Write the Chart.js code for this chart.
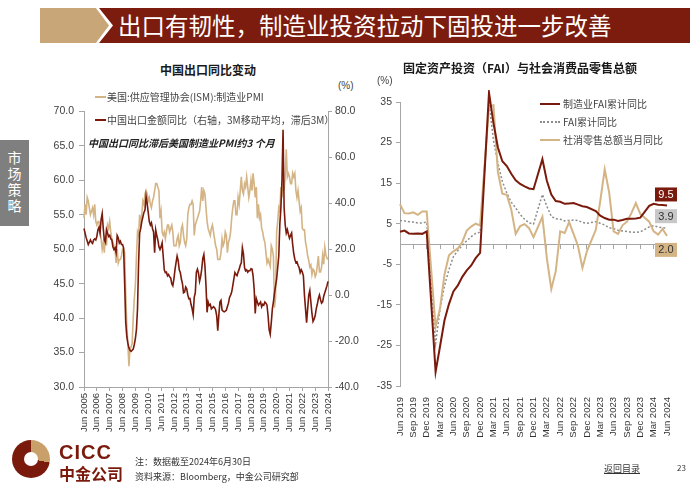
<!DOCTYPE html>
<html>
<head>
<meta charset="utf-8">
<script src="https://cdn.jsdelivr.net/npm/chart.js@4.4.1/dist/chart.umd.min.js"></script>
<style>
  body { margin: 0; width: 700px; height: 490px; position: relative; background: #fff; overflow: hidden;
         font-family: "Liberation Sans", "Noto Sans CJK SC", sans-serif; color: #333; }
  .abs { position: absolute; white-space: nowrap; }
  .tan-arrow { left: 40px; top: 8px; width: 69px; height: 35px; background: #c9a678;
               clip-path: polygon(0 0, 81% 0, 100% 50%, 81% 100%, 0 100%); }
  .head-bar { left: 99px; top: 8px; width: 591px; height: 35px; background: #7b1c0e;
              clip-path: polygon(0 0, 100% 0, 100% 100%, 0 100%, 14px 50%); }
  .head-text { left: 118px; top: 8px; line-height: 35px; font-size: 23.5px; color: #fff; font-family: "Noto Sans CJK SC", sans-serif; }
  .side { left: 0; top: 140px; width: 29px; height: 86px; background: #7f7f7f; color: #fff; font-size: 14px;
          writing-mode: vertical-rl; display: flex; align-items: center; justify-content: center; letter-spacing: 2px;
          font-family: "Noto Sans CJK SC", sans-serif; }
  .ctitle { font-size: 12px; font-weight: bold; color: #1a1a1a; font-family: "Noto Sans CJK SC", sans-serif; transform: translateX(-50%); }
  .unit { font-size: 10px; color: #444; }
  .leg { font-size: 10px; color: #444; font-family: "Noto Sans CJK SC", sans-serif; }
  .legline { height: 2px; }
  .note { font-size: 9px; color: #333; font-family: "Noto Sans CJK SC", sans-serif; }
  canvas { position: absolute; }
</style>
</head>
<body>
<div class="abs tan-arrow"></div>
<div class="abs head-bar"></div>
<div class="abs head-text">出口有韧性，制造业投资拉动下固投进一步改善</div>
<div class="abs side">市场策略</div>

<canvas id="leftChart" width="340" height="345" style="left:30px;top:100px"></canvas>
<canvas id="rightChart" width="330" height="355" style="left:360px;top:90px"></canvas>

<!-- left chart texts -->
<div class="abs ctitle" style="left:208px;top:61px">中国出口同比变动</div>
<div class="abs unit" style="left:338px;top:80px">(%)</div>
<div class="abs legline" style="left:95px;top:96px;width:11px;background:#d4b485"></div>
<div class="abs leg" style="left:107px;top:89px">美国:供应管理协会(ISM):制造业PMI</div>
<div class="abs legline" style="left:95px;top:119px;width:11px;background:#7a1a0c"></div>
<div class="abs leg" style="left:107px;top:112px">中国出口金额同比（右轴，3M移动平均，滞后3M）</div>
<div class="abs leg" style="left:88px;top:135px;font-weight:bold;font-style:italic;color:#222">中国出口同比滞后美国制造业PMI约3 个月</div>

<!-- right chart texts -->
<div class="abs ctitle" style="left:520px;top:59px">固定资产投资（FAI）与社会消费品零售总额</div>
<div class="abs unit" style="left:377px;top:75px">(%)</div>
<div class="abs legline" style="left:540px;top:103px;width:20px;background:#7a1a0c"></div>
<div class="abs leg" style="left:563px;top:96px">制造业FAI累计同比</div>
<div class="abs" style="left:540px;top:121px;width:20px;border-top:2px dotted #8c8c8c"></div>
<div class="abs leg" style="left:563px;top:114px">FAI累计同比</div>
<div class="abs legline" style="left:540px;top:139px;width:20px;background:#d4b485"></div>
<div class="abs leg" style="left:563px;top:132px">社消零售总额当月同比</div>

<!-- footer -->
<div class="abs" style="left:12px;top:440px;width:38px;height:38px;border-radius:50%;background:conic-gradient(#c9a06a 0 28%, #7a1a0c 28% 100%)"></div>
<div class="abs" style="left:24px;top:452px;width:14px;height:14px;border-radius:50%;background:#fff"></div>
<div class="abs" style="left:59px;top:441px;font-size:20px;font-weight:bold;color:#7a1a0c;letter-spacing:1px">CICC</div>
<div class="abs" style="left:59px;top:461px;font-size:16px;font-weight:bold;color:#7a1a0c;font-family:'Noto Sans CJK SC',sans-serif">中金公司</div>
<div class="abs note" style="left:135px;top:455px">注：数据截至2024年6月30日</div>
<div class="abs note" style="left:135px;top:470px">资料来源：Bloomberg，中金公司研究部</div>
<div class="abs note" style="left:604px;top:462px;text-decoration:underline">返回目录</div>
<div class="abs note" style="left:677px;top:462px;font-size:8px">23</div>

<script>
// ---- 左图：美国ISM制造业PMI vs 中国出口同比（月度，2005-06 至 2024-06）----
const leftTickLabels = ["Jun 2005", "Jun 2006", "Jun 2007", "Jun 2008", "Jun 2009", "Jun 2010", "Jun 2011",
    "Jun 2012", "Jun 2013", "Jun 2014", "Jun 2015", "Jun 2016", "Jun 2017", "Jun 2018", "Jun 2019",
    "Jun 2020", "Jun 2021", "Jun 2022", "Jun 2023", "Jun 2024"];

const ismPMI = [
    54.5, 56.5, 55.0, 57.5, 57.0, 56.0, 55.0,                                   // 2005 Jun-Dec
    55.5, 56.0, 55.0, 56.5, 54.0, 53.5, 54.0, 54.0, 52.5, 51.5, 50.0, 51.0,     // 2006
    49.5, 52.0, 50.5, 53.5, 53.0, 54.0, 52.5, 51.5, 51.0, 50.5, 50.0, 48.0,     // 2007
    50.0, 48.0, 48.5, 48.5, 49.0, 50.0, 50.0, 49.5, 43.5, 38.9, 36.2, 33.0,     // 2008
    35.6, 35.8, 36.3, 40.1, 42.8, 44.8, 48.9, 52.5, 52.0, 55.0, 53.5, 55.0,     // 2009
    57.0, 56.5, 58.0, 58.5, 58.0, 57.0, 57.5, 56.5, 56.0, 57.0, 57.5, 58.5,     // 2010
    59.5, 59.5, 59.0, 58.5, 54.5, 55.5, 52.5, 52.0, 52.5, 51.5, 52.5, 53.5,     // 2011
    53.5, 52.5, 53.0, 53.5, 52.5, 50.5, 50.5, 50.5, 51.5, 52.0, 50.5, 51.0,     // 2012
    53.0, 53.5, 52.0, 51.0, 50.5, 51.5, 55.0, 56.0, 56.5, 56.5, 57.0, 56.5,     // 2013
    52.0, 53.5, 54.0, 54.5, 55.0, 55.5, 57.0, 59.0, 57.0, 58.5, 58.0, 56.0,     // 2014
    54.0, 53.0, 52.5, 52.0, 53.0, 53.5, 52.5, 51.5, 50.5, 50.0, 48.5, 48.5,     // 2015
    48.5, 49.5, 51.5, 50.5, 51.0, 52.5, 52.0, 49.5, 51.0, 51.5, 52.5, 54.5,     // 2016
    56.0, 57.0, 57.0, 55.0, 55.0, 57.5, 56.5, 58.5, 60.5, 58.5, 58.0, 59.5,     // 2017
    59.0, 60.5, 59.0, 57.5, 58.5, 60.0, 58.5, 61.0, 59.5, 57.5, 59.0, 54.5,     // 2018
    56.5, 54.5, 55.0, 53.0, 52.5, 51.5, 51.0, 49.5, 48.0, 48.5, 48.0, 47.5,     // 2019
    50.5, 50.0, 49.0, 41.5, 43.0, 52.5, 54.0, 56.0, 55.5, 59.0, 57.5, 60.5,     // 2020
    58.5, 60.5, 64.5, 60.5, 61.0, 60.5, 59.5, 59.5, 61.0, 60.5, 61.0, 58.5,     // 2021
    57.5, 58.5, 57.0, 55.5, 56.0, 53.0, 52.8, 52.8, 51.0, 50.2, 49.0, 48.4,     // 2022
    47.4, 47.7, 46.3, 47.1, 46.9, 46.0, 46.4, 47.6, 49.0, 46.7, 46.7, 47.4,     // 2023
    49.1, 47.8, 50.3, 49.2, 48.7, 48.5                                          // 2024 Jan-Jun
];

// 中国出口金额同比（3M移动平均，滞后3M），右轴
const chinaExport = [
    29, 27, 25, 23.5, 22, 23, 24,                                   // 2005 Jun-Dec
    23, 22.5, 24, 24.5, 24, 25.5, 28.5, 29.5, 27, 33, 35.5, 29,     // 2006
    24, 23, 28.5, 27, 25.5, 26, 24.5, 24, 21, 19.8, 20.5, 18.5,     // 2007
    26, 25, 22.7, 23.5, 22, 22, 20.5, 5, -12, -18, -21, -23,        // 2008
    -24, -24.5, -24, -23.5, -21.5, -19, -15, -6, 14, 27, 29, 32,    // 2009
    34, 36, 37, 43, 40, 36, 32, 30.5, 31.5, 29, 27.5, 18.4,         // 2010
    28.4, 26, 24, 21, 19.8, 21, 22.7, 17, 11, 9.8, 10, 8.4,         // 2011
    9, 8, 7.5, 5, 4.1, 7, 11, 14.1, 17, 15, 11, 9.8,                // 2012
    7, 5, 1, 1.3, 3.5, 2.7, 0, -1.6, -1.5, -4, -5.9, -8.5,          // 2013
    -1, 1, 10, 11.3, 9.5, 6, 8, 11.3, 16, 17.7, 12.7, 4,            // 2014
    -7.5, -3, -4.5, -4, -6, -5.5, -5, -5.5, -6.5, -9, -15.5, -8.7,  // 2015
    -3, -2.3, -6.5, -7, -7.3, -7, -6.6, -5, -3.5, -1, 0, 1.3,       // 2016
    4, 7, 9.8, 9, 8.5, 10, 11.3, 13, 14.1, 20.6, 18, 12,            // 2017
    10.6, 11, 10, 10.6, 10.6, 11.5, 11.3, 8.4, 2.7, -8, -1.5, -3,   // 2018
    -4.4, -3.7, -3, -5.1, -4, -4.4, -3, -3.5, -4.4, -9, -15, -17,   // 2019
    -12, -6, -3, 1, 4, 7, 12, 17, 31, 38, 50, 72,                   // 2020
    38, 30.6, 27, 28.5, 26.5, 24.8, 26, 27, 22, 18, 15.6, 14.1,     // 2021
    14.5, 13, 12, 9.8, 11, 10, 8.4, 0, -6, -12, -6, 0,              // 2022
    2, -3, -8, -11.5, -10.5, -9, -6, -4, -1.5, 0, -2, -3.5,         // 2023
    -3, -0.5, 1, 2.5, 4, 6                                          // 2024 Jan-Jun
];

// ---- 右图：FAI 与社零（月度，2019-06 至 2024-06；1月无单独数据）----
const rightTickLabels = ["Jun 2019", "Sep 2019", "Dec 2019", "Mar 2020", "Jun 2020", "Sep 2020", "Dec 2020",
    "Mar 2021", "Jun 2021", "Sep 2021", "Dec 2021", "Mar 2022", "Jun 2022", "Sep 2022", "Dec 2022",
    "Mar 2023", "Jun 2023", "Sep 2023", "Dec 2023", "Mar 2024", "Jun 2024"];
const rightYTicks = [-35, -25, -15, -5, 5, 15, 25, 35];

const mfgFAI = [
    3.0, 3.3, 2.6, 2.5, 2.6, 2.5, 3.1,
    null, -31.5, -25.2, -18.8, -14.8, -11.7, -10.2, -8.1, -6.5, -5.3, -3.5, -2.2,
    null, 37.3, 29.8, 23.8, 20.4, 19.2, 17.3, 15.7, 14.8, 14.2, 13.7, 13.5,
    null, 20.9, 15.6, 12.2, 10.6, 10.4, 9.9, 10.0, 10.1, 9.7, 9.3, 9.1,
    null, 8.1, 7.0, 6.4, 6.0, 6.0, 5.7, 5.9, 6.2, 6.2, 6.3, 6.5,
    null, 9.4, 9.9, 9.7, 9.6, 9.5
];
const totalFAI = [
    5.8, 5.7, 5.5, 5.4, 5.2, 5.2, 5.4,
    null, -24.5, -16.1, -10.3, -6.3, -3.1, -1.6, -0.3, 0.8, 1.8, 2.6, 2.9,
    null, 35.0, 25.6, 19.9, 15.4, 12.6, 10.3, 8.9, 7.3, 6.1, 5.2, 4.9,
    null, 12.2, 9.3, 6.8, 6.2, 6.1, 5.7, 5.8, 5.9, 5.8, 5.3, 5.1,
    null, 5.5, 5.1, 4.7, 4.0, 3.8, 3.4, 3.2, 3.1, 2.9, 2.9, 3.0,
    null, 4.2, 4.5, 4.2, 4.0, 3.9
];
const retailSales = [
    9.8, 7.6, 7.5, 7.8, 7.2, 8.0, 8.0,
    null, -20.5, -15.8, -7.5, -2.8, -1.8, -1.1, 0.5, 3.3, 4.3, 5.0, 4.6,
    null, 33.8, 34.2, 17.7, 12.4, 12.1, 8.5, 2.5, 4.4, 4.9, 3.9, 1.7,
    null, 6.7, -3.5, -11.1, -6.7, 3.1, 2.7, 5.4, 2.5, -0.5, -5.9, -1.8,
    null, 3.5, 10.6, 18.4, 12.7, 3.1, 2.5, 4.6, 5.5, 7.6, 10.1, 7.4,
    null, 5.5, 3.1, 2.3, 3.7, 2.0
];
const endTagValues = [9.5, 3.9, 2.0];

const DARK = "#7a1a0c";
const TAN = "#d4b485";
const GREY = "#8c8c8c";
const AXIS = "#a6a6a6";
const TICK = "#404040";
const MONTHS = ["Jan", "Feb", "Mar", "Apr", "May", "Jun", "Jul", "Aug", "Sep", "Oct", "Nov", "Dec"];

Chart.defaults.font.family = '"Liberation Sans", "Noto Sans CJK SC", sans-serif';
Chart.defaults.color = TICK;

// Monatslabels ab Startmonat erzeugen
const monthLabels = (year, month, count) => {
    const out = [];
    for (let i = 0; i < count; i++) {
        const m = month + i;
        out.push(MONTHS[m % 12] + " " + (year + Math.floor(m / 12)));
    }
    return out;
};

const leftMonths = monthLabels(2005, 5, ismPMI.length);
const rightMonths = monthLabels(2019, 5, mfgFAI.length);

new Chart(document.getElementById("leftChart"), {
    type: "line",
    data: {
        labels: leftMonths,
        datasets: [
            { label: "美国:供应管理协会(ISM):制造业PMI", data: ismPMI, yAxisID: "y",
              borderColor: TAN, borderWidth: 1.6, pointRadius: 0, order: 1, clip: false },
            { label: "中国出口金额同比", data: chinaExport, yAxisID: "y1",
              borderColor: DARK, borderWidth: 1.6, pointRadius: 0, order: 0, clip: false },
        ],
    },
    options: {
        responsive: false,
        animation: false,
        layout: { padding: { top: 7, left: 0, right: 0, bottom: 0 } },
        plugins: { legend: { display: false }, tooltip: { enabled: false } },
        scales: {
            x: {
                ticks: {
                    autoSkip: false, minRotation: 90, maxRotation: 90, padding: 2,
                    font: { size: 9.5 }, color: "#333",
                    callback: function (v) {
                        const l = this.getLabelForValue(v);
                        return leftTickLabels.includes(l) ? l : null;
                    },
                },
                grid: { drawOnChartArea: false, tickLength: 4, color: AXIS },
                border: { color: AXIS },
                afterFit: (s) => { s.height = 58; },
            },
            y: {
                position: "left", min: 30, max: 70,
                ticks: { stepSize: 5, font: { size: 10.5 }, padding: 5, callback: (v) => v.toFixed(1) },
                grid: { drawOnChartArea: false, tickLength: 5, color: AXIS },
                border: { color: AXIS },
                afterFit: (s) => { s.width = 54; },
            },
            y1: {
                position: "right", min: -40, max: 80,
                ticks: { stepSize: 20, font: { size: 10.5 }, padding: 3, callback: (v) => v.toFixed(1) },
                grid: { drawOnChartArea: false, tickLength: 4, color: AXIS },
                border: { color: AXIS },
                afterFit: (s) => { s.width = 42; },
            },
        },
    },
});

// Endwerte als farbige Kästchen am rechten Rand
const endTags = {
    id: "endTags",
    afterDatasetsDraw(chart) {
        const { ctx } = chart;
        const xs = chart.scales.x;
        const ys = chart.scales.y;
        const styles = [
            { bg: DARK, fg: "#fff", dy: -11 },
            { bg: "#c8c8c8", fg: "#333", dy: -12 },
            { bg: TAN, fg: "#333", dy: 14 },
        ];
        const x = xs.getPixelForValue(mfgFAI.length - 1) - 1;
        ctx.save();
        ctx.font = '11px "Liberation Sans", sans-serif';
        ctx.textAlign = "center";
        ctx.textBaseline = "middle";
        endTagValues.forEach((v, i) => {
            const st = styles[i];
            const y = ys.getPixelForValue(v) + st.dy;
            ctx.fillStyle = st.bg;
            ctx.fillRect(x - 11, y - 7, 22, 14);
            ctx.fillStyle = st.fg;
            ctx.fillText(v.toFixed(1), x, y + 0.5);
        });
        ctx.restore();
    },
};

const quarterTick = function (v) {
    const l = this.getLabelForValue(v);
    return rightTickLabels.includes(l) ? l : null;
};

new Chart(document.getElementById("rightChart"), {
    type: "line",
    data: {
        labels: rightMonths,
        datasets: [
            { label: "制造业FAI累计同比", data: mfgFAI, borderColor: DARK, borderWidth: 2,
              pointRadius: 0, spanGaps: true, order: 0, clip: false },
            { label: "FAI累计同比", data: totalFAI, borderColor: GREY, borderWidth: 1.5,
              borderDash: [2, 2], pointRadius: 0, spanGaps: true, order: 2, clip: false },
            { label: "社消零售总额当月同比", data: retailSales, borderColor: TAN, borderWidth: 2,
              pointRadius: 0, spanGaps: true, order: 1, clip: false },
        ],
    },
    options: {
        responsive: false,
        animation: false,
        layout: { padding: { top: 12, left: 0, right: 23, bottom: 0 } },
        plugins: { legend: { display: false }, tooltip: { enabled: false } },
        scales: {
            x: {
                position: { y: 0 },
                ticks: { autoSkip: false, display: true, font: { size: 1 }, color: "rgba(0,0,0,0)",
                         callback: function (v) {
                             const l = this.getLabelForValue(v);
                             return rightTickLabels.includes(l) ? "" : null;
                         } },
                grid: { drawOnChartArea: false, tickLength: 4, color: AXIS },
                border: { color: AXIS },
            },
            x2: {
                type: "category",
                position: "bottom",
                ticks: { autoSkip: false, minRotation: 90, maxRotation: 90, padding: 3,
                         font: { size: 9.5 }, color: "#333", callback: quarterTick },
                grid: { display: false },
                border: { display: false },
                afterFit: (s) => { s.height = 59; },
            },
            y: {
                position: "left", min: -35, max: 35,
                afterBuildTicks: (s) => { s.ticks = rightYTicks.map((v) => ({ value: v })); },
                ticks: { font: { size: 10.5 }, padding: 4 },
                grid: { drawOnChartArea: false, tickLength: 4, color: AXIS },
                border: { color: AXIS },
                afterFit: (s) => { s.width = 40; },
            },
        },
    },
    plugins: [endTags],
});
</script>
</body>
</html>
